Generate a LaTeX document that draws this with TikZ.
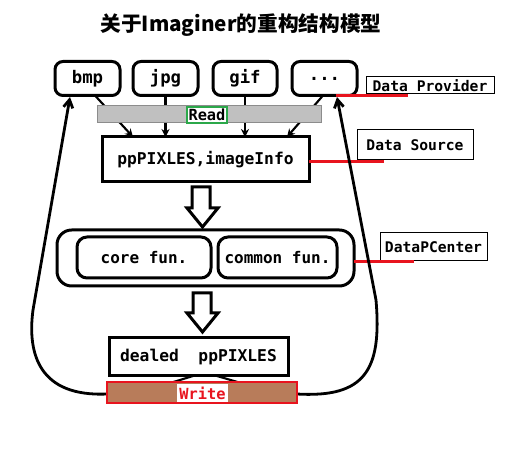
\documentclass[tikz,border=0pt]{standalone}
\usepackage{fontspec}
\newfontfamily\cjk{Noto Sans CJK SC}
\newfontfamily\lab{DejaVu Sans Mono}
\usetikzlibrary{arrows.meta,calc}
\definecolor{redl}{HTML}{E8141E}
\definecolor{brownbar}{HTML}{B87C5A}
\definecolor{greenb}{HTML}{2BA84A}
\definecolor{grayb}{HTML}{C0C0C0}
\definecolor{grayd}{HTML}{8C8C8C}
\begin{document}
\begin{tikzpicture}[x=0.75pt,y=-0.75pt,
  sz/.style 2 args={minimum width=#1*0.75pt,minimum height=#2*0.75pt,inner sep=0pt,outer sep=0pt},
  fs/.style={font=\lab\bfseries\fontsize{#1}{#1}\selectfont},
  topbox/.style={draw,line width=2.25pt,rounded corners=6pt,fill=white,fs=13},
  mainbox/.style={draw,line width=2.25pt,fill=white,fs=12.2},
  roundbox/.style={draw,line width=2.25pt,rounded corners=7.5pt,fill=white,fs=12},
  labbox/.style={draw,line width=0.75pt,fill=white,fs=11},
  redline/.style={draw=redl,line width=2.25pt},
  conn/.style={line width=1.6pt,-{Stealth[length=6pt,width=6pt]}},
  loopline/.style={line width=2.1pt,-{Straight Barb[length=6pt,width=7pt]}},
  hollow/.style={draw,line width=2.25pt,fill=white}]
\fill[white] (0,0) rectangle (512,463);
\useasboundingbox (0,0) rectangle (512,463);

\node (title) at (241,25.5) {\cjk\bfseries\fontsize{15.5}{18}\selectfont 关于Imaginer的重构结构模型};

% top boxes
\node[topbox,sz={65}{34}] (bmp) at (87.5,78.5) {bmp};
\node[topbox,sz={65}{34}] (jpg) at (165.5,78.5) {jpg};
\node[topbox,sz={64}{34}] (gif) at (245,78.5) {gif};
\node[topbox,sz={65}{34}] (dots) at (324.5,78.5) {...};

% data source box
\node[mainbox,sz={207}{45}] (pp) at (205.5,159.5) {ppPIXLES,imageInfo};

% arrows into data source
\draw[conn] ($(bmp.south)+(7.5,0)$) -- ($(pp.north west)+(31,0)$);
\draw[conn] (jpg.south) -- (jpg.south |- pp.north);
\draw[conn] (gif.south) -- (gif.south |- pp.north);
\draw[conn] ($(dots.south west)+(31,0)$) -- ($(pp.north east)+(-22,0)$);

% read bar
\node[draw=grayd,fill=grayb,line width=0.75pt,sz={224}{17}] (read) at (209,114.5) {};
\node[draw=greenb,fill=white,line width=0.9pt,sz={40}{16},fs=11.5] (readt) at (207,115) {Read};

% labels
\node[labbox,sz={128}{17}] (dp) at (430,85.5) {Data Provider};
\node[labbox,sz={116}{30}] (ds) at (415,145) {Data Source};
\node[labbox,sz={107}{28}] (dc) at (433.5,247) {DataPCenter};

\draw[redline] ($(dots.south east)+(-21,0.5)$) -- ($(dp.south west)+(42,2)$);
\draw[redline] ($(pp.east)+(0,2.5)$) -- ($(ds.south west)+(27,2)$);

% hollow arrow 1
\draw[hollow] (192,187) -- (210,187) -- (210,208) -- (218,208) -- (202.5,227) -- (187,208) -- (192,208) -- cycle;

% data center
\node[draw,line width=2.25pt,rounded corners=11pt,sz={297}{56}] (pcc) at (205.5,258) {};
\node[roundbox,sz={134}{41}] (core) at (144,257.5) {core fun.};
\node[roundbox,sz={119}{41}] (common) at (277.5,257.5) {common fun.};
\draw[redline] ($(pcc.east)+(0,4)$) -- ($(dc.south west)+(34,1)$);

% hollow arrow 2
\draw[hollow] (193,293) -- (211,293) -- (211,313) -- (218,313) -- (202.5,332) -- (187,313) -- (193,313) -- cycle;

% dealed
\node[mainbox,sz={179}{38}] (dealed) at (198.5,357) {dealed\ \ ppPIXLES};

% write bar
\node[sz={190}{21}] (wbar) at (202,392.5) {};
\draw[line width=1.6pt] ($(dealed.south)+(-5.5,0)$) -- ($(wbar.north)+(-54.5,8)$);
\draw[line width=1.6pt] ($(dealed.south)+(18.5,0)$) -- ($(wbar.north)+(62.7,8)$);
\draw[loopline] ($(wbar.west)+(0,1.5)$) .. controls (40,397) and (27,355) .. (33,310) -- ($(bmp.south west)+(15,1.5)$);
\draw[loopline] ($(wbar.east)+(0,1.5)$) .. controls (365,398) and (382,370) .. (376,300) -- ($(dots.south west)+(45,1.5)$);
\fill[brownbar] (wbar.north west) rectangle (wbar.south east);
\draw[redl,line width=0.9pt] (wbar.north west) rectangle (wbar.south east);
\node[fill=white,sz={51}{18},fs=11.5,text=redl] (wt) at (202.5,393) {Write};
\end{tikzpicture}
\end{document}
